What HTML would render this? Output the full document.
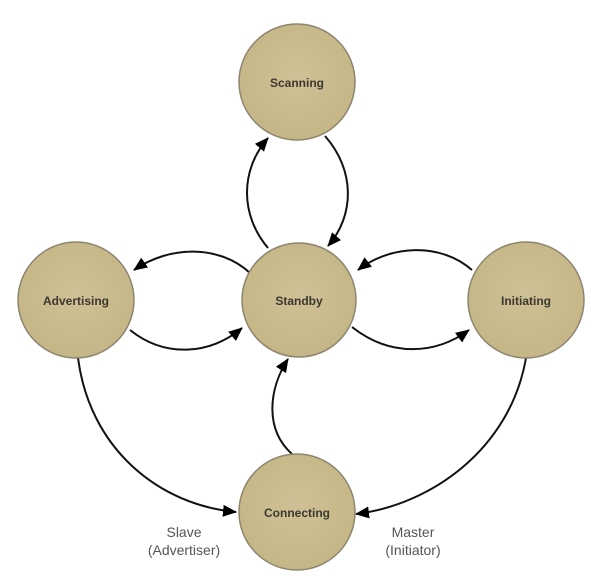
<!DOCTYPE html>
<html><head><style>
html,body{margin:0;padding:0;background:#fff;}
svg{display:block;}
text{font-family:"Liberation Sans",sans-serif;}
</style></head><body>
<svg width="600" height="588" viewBox="0 0 600 588">
<defs>
<marker id="a" markerWidth="14" markerHeight="14" refX="13" refY="6" orient="auto" markerUnits="userSpaceOnUse">
<path d="M0,0 L14,6 L0,12 z" fill="#000"/>
</marker>
<radialGradient id="g" cx="50%" cy="45%" r="60%">
<stop offset="0" stop-color="#cfc195"/><stop offset="1" stop-color="#c4b585"/>
</radialGradient>
</defs>
<g fill="none" stroke="#111" stroke-width="2">
<path d="M268,248 C240,215 240,170 268,138" marker-end="url(#a)"/>
<path d="M325,136 C355,170 355,215 328,246" marker-end="url(#a)"/>
<path d="M250,273 C220,245 170,245 134,270" marker-end="url(#a)"/>
<path d="M130,330 C165,358 210,355 242,328" marker-end="url(#a)"/>
<path d="M472,270 C440,242 390,245 358,270" marker-end="url(#a)"/>
<path d="M352,327 C390,357 435,355 469,330" marker-end="url(#a)"/>
<path d="M78,358 C90,450 160,505 236,512" marker-end="url(#a)"/>
<path d="M526,358 C510,450 430,505 356,514" marker-end="url(#a)"/>
<path d="M292,454 C265,430 268,390 288,359" marker-end="url(#a)"/>
</g>
<g fill="url(#g)" stroke="#8d8570" stroke-width="1.5">
<circle cx="297" cy="82" r="58"/>
<circle cx="299" cy="300" r="57"/>
<circle cx="76" cy="300" r="58"/>
<circle cx="526" cy="300" r="58"/>
<circle cx="297" cy="512" r="58"/>
</g>
<g font-size="12" fill="#3a3830" text-anchor="middle" font-weight="bold">
<text x="297" y="87">Scanning</text>
<text x="299" y="305">Standby</text>
<text x="76" y="305">Advertising</text>
<text x="526" y="305">Initiating</text>
<text x="297" y="517">Connecting</text>
</g>
<g font-size="14" fill="#555" text-anchor="middle">
<text x="184" y="537">Slave</text>
<text x="184" y="555">(Advertiser)</text>
<text x="413" y="537">Master</text>
<text x="413" y="555">(Initiator)</text>
</g>
</svg>
</body></html>
